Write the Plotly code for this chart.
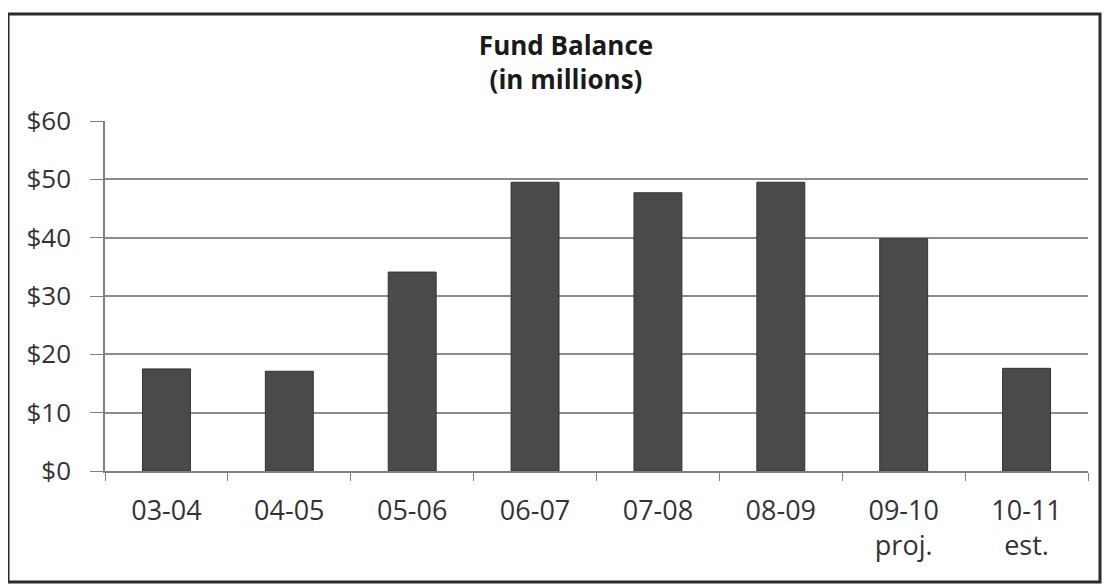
import plotly.graph_objects as go

categories = ["03-04", "04-05", "05-06", "06-07", "07-08", "08-09", "09-10<br>proj.", "10-11<br>est."]
fund_balance = [17.5, 17.1, 34.1, 49.5, 47.7, 49.5, 39.8, 17.6]
y_ticks = [0, 10, 20, 30, 40, 50, 60]
y_labels = ["$0", "$10", "$20", "$30", "$40", "$50", "$60"]

font_family = "Open Sans, Lato, sans-serif"

# figure geometry (page body has an 8px margin)
W, H = 1103, 578
L, R, T, B = 97, 23, 113, 115
pw, ph = W - L - R, H - T - B

fig = go.Figure(go.Bar(
    x=categories,
    y=fund_balance,
    marker=dict(color="#4a4a4a", line=dict(color="#333333", width=1)),
    width=0.39,
))

fig.update_layout(
    width=W, height=H,
    margin=dict(l=L, r=R, t=T, b=B),
    paper_bgcolor="white", plot_bgcolor="white",
    showlegend=False,
    title=dict(text="<b>Fund Balance<br>(in millions)</b>",
               xref="paper", x=(558 - L) / pw, xanchor="center",
               yref="container", y=1 - 47 / H, yanchor="middle",
               font=dict(family=font_family, size=26, color="#1a1a1a")),
    font=dict(family=font_family, size=26, color="#333"),
    shapes=[dict(type="rect", xref="paper", yref="paper",
                 x0=(0 - L) / pw, x1=(1092 - L) / pw,
                 y0=-(574 - (H - B)) / ph, y1=((H - B) - 6) / ph,
                 line=dict(color="#2a2a2a", width=3))],
)

fig.update_xaxes(
    type="category",
    tickson="boundaries",
    ticks="outside", ticklen=8, tickcolor="#808080",
    showline=True, linecolor="#808080", linewidth=1.5,
    showgrid=False,
    ticklabelstandoff=15,
    tickfont=dict(size=27, color="#333"),
)
fig.update_yaxes(
    range=[0, 60],
    tickvals=y_ticks, ticktext=y_labels,
    ticks="outside", ticklen=13, tickcolor="#808080",
    showline=True, linecolor="#808080", linewidth=1.5,
    showgrid=True, gridcolor="#8c8c8c", gridwidth=1.5,
    zeroline=False,
    ticklabelstandoff=14,
    tickfont=dict(size=26, color="#333"),
)

fig.write_html("out.html")
